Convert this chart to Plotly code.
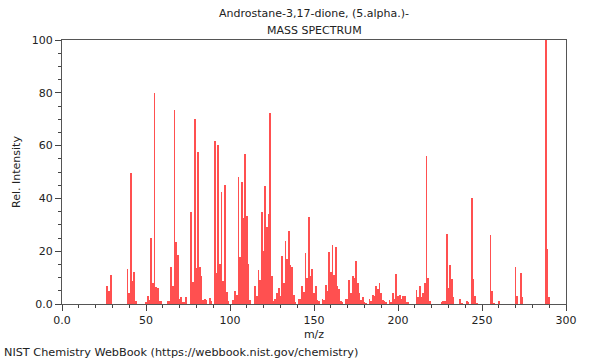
import plotly.graph_objects as go

title_line1 = "Androstane-3,17-dione, (5.alpha.)-"
title_line2 = "MASS SPECTRUM"
x_label = "m/z"
y_label = "Rel. Intensity"
footer = "NIST Chemistry WebBook (https://webbook.nist.gov/chemistry)"

mz = [27, 28, 29, 39, 40, 41, 42, 43, 44, 50, 51, 52, 53, 54, 55, 56, 57, 58, 59,
      63, 64, 65, 66, 67, 68, 69, 70, 71, 72, 73, 74, 77, 78, 79, 80, 81, 82, 83,
      84, 85, 86, 88, 89, 91, 92, 93, 94, 95, 96, 97, 98, 99, 102, 103, 104, 105,
      106, 107, 108, 109, 110, 111, 112, 115, 116, 117, 118, 119, 120, 121, 122,
      123, 124, 125, 126, 127, 128, 129, 130, 131, 132, 133, 134, 135, 136, 137,
      138, 139, 141, 142, 143, 144, 145, 146, 147, 148, 149, 150, 151, 152, 153,
      155, 156, 157, 158, 159, 160, 161, 162, 163, 164, 165, 166, 167, 169, 170,
      171, 172, 173, 174, 175, 176, 177, 178, 179, 180, 181, 183, 184, 185, 186,
      187, 188, 189, 190, 191, 192, 193, 195, 196, 197, 198, 199, 200, 201, 202,
      203, 204, 205, 206, 211, 212, 213, 214, 215, 216, 217, 218, 219, 226, 227,
      228, 229, 230, 231, 232, 233, 237, 238, 241, 242, 244, 245, 246, 247, 255,
      256, 257, 260, 270, 271, 273, 274, 288, 289, 290]
intensity = [6.8, 5, 11, 13.4, 4, 49.5, 8.8, 12.2, 1, 0.5, 3, 1.7, 25, 7.8, 80, 6.5, 6, 1, 1,
             1, 1, 14, 6.8, 73.5, 23.5, 18.5, 2, 2.8, 0.5, 0.5, 2.5, 35, 8.3, 70, 13.6, 57.4, 14, 10.5,
             1.7, 2, 1.5, 2.3, 1, 61.9, 11.7, 60.4, 15, 42.3, 8.7, 45, 4.5, 1, 1.5, 5, 3.4, 48.1,
             17.7, 46.2, 32.6, 56.8, 33.3, 15, 1.7, 6.8, 3, 13, 9, 34.7, 20, 44.8, 29.3,
             34, 72.2, 10.6, 1, 2, 4, 6, 3, 18.2, 7.8, 24, 17, 27.8, 14.6, 14,
             3.4, 0.5, 2, 2, 7, 4.5, 19.5, 10, 32.8, 10.6, 13.3, 4, 7, 1.7, 1,
             2, 1.7, 7.3, 5, 19.8, 12, 22.5, 11, 21.5, 7, 5.7, 1, 0.5, 2, 2,
             9, 4, 10.6, 10, 16.3, 8, 4, 1.7, 2.5, 0.5, 0.3, 2, 1, 3.4, 3,
             7, 5.7, 7.8, 4, 1.5, 1, 0.5, 1.5, 0.5, 4, 2, 11.2, 3, 3.4, 2,
             3, 3, 0.5, 0.5, 5.3, 2.5, 6.8, 2.8, 4, 7.8, 56, 10, 1, 0.5, 1,
             1, 26.5, 6, 14.8, 9.5, 2.5, 2, 0.3, 1, 0.5, 40, 9.3, 3, 0.3, 26,
             5, 0.3, 1, 14, 3, 11.6, 2.8, 100, 21, 2.8]

x_tickvals = [0, 50, 100, 150, 200, 250, 300]
x_ticktext = ["0.0", "50", "100", "150", "200", "250", "300"]
y_tickvals = [0, 20, 40, 60, 80, 100]
y_ticktext = ["0.0", "20", "40", "60", "80", "100"]

FONT = "DejaVu Sans, Verdana, sans-serif"

fig = go.Figure()
fig.add_trace(go.Bar(
    x=mz, y=intensity, width=0.45,
    marker=dict(color="#ff5050", line=dict(width=0)),
    hoverinfo="x+y",
))

fig.update_layout(
    width=600, height=360,
    margin=dict(l=62, r=34, t=40, b=56, autoexpand=False),
    paper_bgcolor="white", plot_bgcolor="white",
    showlegend=False,
    bargap=0,
    font=dict(family=FONT, size=11, color="#222"),
    annotations=[
        dict(text=title_line1, xref="paper", yref="paper", x=0.5, y=1,
             yshift=18, xanchor="center", yanchor="bottom", showarrow=False,
             font=dict(size=11, family=FONT, color="#222")),
        dict(text=title_line2, xref="paper", yref="paper", x=0.5, y=1,
             yshift=1, xanchor="center", yanchor="bottom", showarrow=False,
             font=dict(size=11, family=FONT, color="#222")),
        dict(text=footer, xref="paper", yref="paper", x=0, y=0,
             xshift=-60, yshift=-57, xanchor="left", yanchor="bottom", showarrow=False,
             font=dict(size=11.25, family=FONT, color="#222")),
    ],
)

fig.update_xaxes(
    range=[0, 300], tickvals=x_tickvals, ticktext=x_ticktext,
    ticks="outside", ticklen=6, tickcolor="#444", tickwidth=1,
    minor=dict(dtick=10, ticks="outside", ticklen=3, tickcolor="#444", showgrid=False),
    showline=True, linecolor="#555", linewidth=1, mirror=True,
    showgrid=False, zeroline=False,
    title=dict(text=x_label, standoff=4, font=dict(size=11)),
    tickfont=dict(size=11),
)
fig.update_yaxes(
    range=[0, 100], tickvals=y_tickvals, ticktext=y_ticktext,
    ticks="outside", ticklen=6, tickcolor="#444", tickwidth=1,
    minor=dict(dtick=5, ticks="outside", ticklen=3, tickcolor="#444", showgrid=False),
    showline=True, linecolor="#555", linewidth=1, mirror=True,
    showgrid=False, zeroline=False,
    title=dict(text=y_label, standoff=8, font=dict(size=11)),
    tickfont=dict(size=11),
)

fig.write_html("out.html", config={"displayModeBar": False},
               post_script="document.body.style.margin='0';")
